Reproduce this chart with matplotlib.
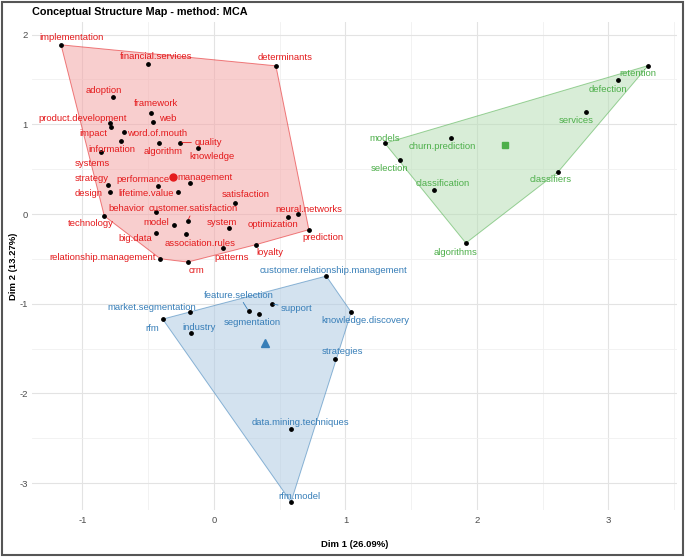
import numpy as np
import matplotlib
matplotlib.use("Agg")
import matplotlib.pyplot as plt
from matplotlib.patches import Polygon, Rectangle

plt.rcParams['font.family'] = ['Liberation Sans', 'DejaVu Sans']
plt.rcParams['axes.unicode_minus'] = False

# cluster 1 (red)
red_words = ["implementation", "financial.services", "determinants", "adoption", "framework",
             "web", "product.development", "impact", "word.of.mouth", "information",
             "algorithm", "quality", "knowledge", "systems", "strategy", "design",
             "performance", "management", "lifetime.value", "satisfaction", "behavior",
             "customer.satisfaction", "neural.networks", "optimization", "technology",
             "model", "system", "prediction", "big.data", "association.rules", "loyalty",
             "patterns", "relationship.management", "crm"]
red_x = [-1.163, -0.502, 0.471, -0.768, -0.477, -0.466, -0.788, -0.783, -0.684, -0.707,
         -0.421, -0.259, -0.124, -0.862, -0.808, -0.788, -0.426, -0.185, -0.274, 0.162,
         -0.439, -0.200, 0.636, 0.560, -0.834, -0.307, 0.112, 0.722, -0.441, -0.213,
         0.319, 0.071, -0.408, -0.200]
red_y = [1.886, 1.674, 1.652, 1.302, 1.127, 1.030, 1.012, 0.967, 0.915, 0.811,
         0.789, 0.796, 0.740, 0.688, 0.327, 0.246, 0.313, 0.342, 0.242, 0.123,
         0.022, -0.074, -0.004, -0.037, -0.022, -0.123, -0.160, -0.175, -0.212, -0.227,
         -0.342, -0.379, -0.499, -0.536]

# cluster 2 (green)
green_words = ["retention", "defection", "services", "models", "churn.prediction",
               "selection", "classification", "classifiers", "algorithms"]
green_x = [3.303, 3.075, 2.831, 1.300, 1.802, 1.414, 1.670, 2.619, 1.916]
green_y = [1.655, 1.492, 1.142, 0.789, 0.852, 0.599, 0.271, 0.472, -0.324]

# cluster 3 (blue)
blue_words = ["customer.relationship.management", "feature.selection", "segmentation",
              "support", "market.segmentation", "rfm", "industry", "knowledge.discovery",
              "strategies", "data.mining.techniques", "rfm.model"]
blue_x = [0.854, 0.264, 0.342, 0.439, -0.183, -0.390, -0.172, 1.044, 0.920, 0.583, 0.586]
blue_y = [-0.692, -1.083, -1.120, -1.001, -1.097, -1.172, -1.324, -1.094, -1.615, -2.400, -3.211]

# label placement (pixels, right / down)
label_offsets = {
    "implementation": (11, -7), "financial.services": (8, -7), "determinants": (9, -8),
    "adoption": (-9, -7), "framework": (5, -9), "web": (15, -3),
    "product.development": (-28, -5), "impact": (-18, 6), "word.of.mouth": (33, 2),
    "information": (-9, 8), "algorithm": (5, 8), "quality": (28, 0), "knowledge": (14, 9),
    "systems": (-8, 11), "strategy": (-16, -6), "design": (-22, 2),
    "performance": (-15, -6), "management": (15, -6), "lifetime.value": (-32, 1),
    "satisfaction": (10, -8), "behavior": (-30, -4), "customer.satisfaction": (6, -12),
    "neural.networks": (11, -5), "optimization": (-15, 7), "technology": (-14, 8),
    "model": (-17, -3), "system": (-7, -6), "prediction": (14, 8), "big.data": (-21, 5),
    "association.rules": (14, 9), "loyalty": (14, 8), "patterns": (8, 10),
    "relationship.management": (-58, -1), "crm": (9, 8),
    "retention": (-10, 8), "defection": (-10, 9), "services": (-10, 9), "models": (0, -5),
    "churn.prediction": (-9, 9), "selection": (-10, 8), "classification": (9, -6),
    "classifiers": (-8, 8), "algorithms": (-10, 9),
    "customer.relationship.management": (7, -6), "feature.selection": (-10, -16),
    "support": (25, 5), "market.segmentation": (-38, -5), "rfm": (-10, 9),
    "industry": (8, -5), "segmentation": (-7, 8), "knowledge.discovery": (14, 8),
    "strategies": (8, -7), "data.mining.techniques": (10, -7), "rfm.model": (8, -6),
}
linked = {"quality", "customer.satisfaction", "feature.selection", "support"}


def hull(pts):
    pts = sorted(set(map(tuple, pts)))
    def cross(o, a, b):
        return (a[0]-o[0])*(b[1]-o[1]) - (a[1]-o[1])*(b[0]-o[0])
    lower, upper = [], []
    for p in pts:
        while len(lower) >= 2 and cross(lower[-2], lower[-1], p) <= 0:
            lower.pop()
        lower.append(p)
    for p in reversed(pts):
        while len(upper) >= 2 and cross(upper[-2], upper[-1], p) <= 0:
            upper.pop()
        upper.append(p)
    return np.array(lower[:-1] + upper[:-1])


clusters = [
    (red_words, red_x, red_y, "#E41A1C", "#F4A6A7", "o", 5),
    (green_words, green_x, green_y, "#4DAF4A", "#B8DFB7", "s", 5),
    (blue_words, blue_x, blue_y, "#377EB8", "#AFCBE3", "^", 5.5),
]

fig = plt.figure(figsize=(6.85, 5.57), dpi=100)
ax = fig.add_axes([0.0467, 0.0844, 0.9413, 0.876])

for words, xs, ys, col, fill, mk, ms in clusters:
    h = hull(np.column_stack([xs, ys]))
    ax.add_patch(Polygon(h, closed=True, facecolor=fill, alpha=0.55,
                         edgecolor=col, lw=0.7, zorder=2))
    ax.scatter(xs, ys, s=6, color="black", zorder=4)
    ax.plot(np.mean(xs), np.mean(ys), marker=mk, color=col, ms=ms, ls="none", zorder=4)
    for w, x, y in zip(words, xs, ys):
        dx, dy = label_offsets.get(w, (0, -8))
        kw = {}
        if w in linked:
            kw["arrowprops"] = dict(arrowstyle="-", color=col, lw=0.6, shrinkA=0, shrinkB=1.5)
        ax.annotate(w, (x, y), xytext=(dx, -dy), textcoords="offset pixels",
                    ha="center", va="center", fontsize=6.8, color=col, zorder=5, **kw)

ax.set_xticks([-1, 0, 1, 2, 3])
ax.set_yticks([-3, -2, -1, 0, 1, 2])
ax.set_xticks(np.arange(-1.5, 3.6, 0.5), minor=True)
ax.set_yticks(np.arange(-3.5, 2.6, 0.5), minor=True)
ax.set_xlim(-1.384, 3.52)
ax.set_ylim(-3.30, 2.14)
ax.grid(which="major", color="#E3E3E3", lw=0.8, zorder=0)
ax.grid(which="minor", color="#F0F0F0", lw=0.6, zorder=0)
ax.set_axisbelow(True)
for s in ax.spines.values():
    s.set_visible(False)
ax.tick_params(which="both", length=0, labelsize=6.8, labelcolor="#4D4D4D")
ax.tick_params(axis="x", pad=4)
ax.tick_params(axis="y", pad=3)

ax.set_xlabel("Dim 1 (26.09%)", fontsize=6.8, fontweight="bold", labelpad=11)
ax.set_ylabel("Dim 2 (13.27%)", fontsize=6.8, fontweight="bold", labelpad=1)
fig.text(32/685, 1 - 12/557, "Conceptual Structure Map - method: MCA",
         fontsize=7.8, fontweight="bold", ha="left", va="center")

fig.patches.append(Rectangle((0.003, 0.004), 0.994, 0.992, transform=fig.transFigure,
                             fill=False, edgecolor="#555555", lw=1.5))

fig.savefig("out.png", dpi=100)
